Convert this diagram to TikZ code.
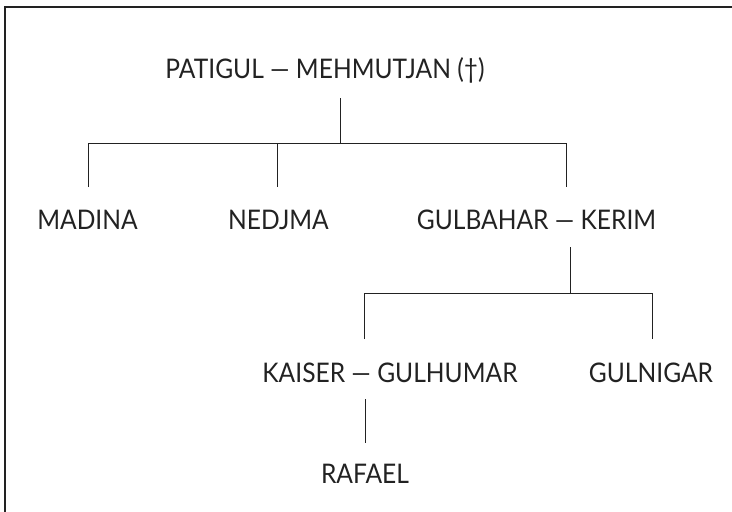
\documentclass[tikz,border=0pt]{standalone}
\usepackage{fontspec}
\setmainfont{Lato}[FakeStretch=0.91]
\definecolor{ink}{HTML}{222222}
\begin{document}
\begin{tikzpicture}[x=1pt,y=-1pt,
  person/.style={inner sep=0pt,anchor=base,text=ink,font=\fontsize{27}{30}\selectfont},
  link/.style={draw=ink,line width=1pt},
  frame/.style={draw=ink,line width=1.4pt}]
\useasboundingbox (0,0) rectangle (732,512);
% frame (open to right and bottom)
\coordinate (fr1) at (5,512);
\coordinate (fr2) at (5,7);
\coordinate (fr3) at (732,7);
\draw[frame] (fr1) -- (fr2) -- (fr3);
% people
\node[person] (pm) at (325,78) {PATIGUL — MEHMUTJAN (†)};
\node[person] (mad) at (87.5,229) {MADINA};
\node[person] (ned) at (278.5,229) {NEDJMA};
\node[person] (gk) at (536.5,229) {GULBAHAR — KERIM};
\node[person] (kg) at (390,382) {KAISER — GULHUMAR};
\node[person] (gn) at (651,382) {GULNIGAR};
\node[person] (raf) at (365,483) {RAFAEL};
% connectors
\coordinate (pmd) at (340,98);
\coordinate (pmj) at (340,143);
\coordinate (madj) at (88,143);
\coordinate (madd) at (88,187);
\coordinate (nedj) at (277,143);
\coordinate (nedd) at (277,187);
\coordinate (gkj) at (566,143);
\coordinate (gku) at (566,187);
\coordinate (gkd) at (570,247);
\coordinate (gkb) at (570,293);
\coordinate (kgj) at (364,293);
\coordinate (kgu) at (364,339);
\coordinate (gnj) at (652,293);
\coordinate (gnu) at (652,339);
\coordinate (kgd) at (365,399);
\coordinate (rafu) at (365,443);
\draw[link] (pmd) -- (pmj);
\draw[link] (madd) -- (madj) -- (gkj) -- (gku);
\draw[link] (nedj) -- (nedd);
\draw[link] (gkd) -- (gkb);
\draw[link] (kgu) -- (kgj) -- (gnj) -- (gnu);
\draw[link] (kgd) -- (rafu);
\end{tikzpicture}
\end{document}
